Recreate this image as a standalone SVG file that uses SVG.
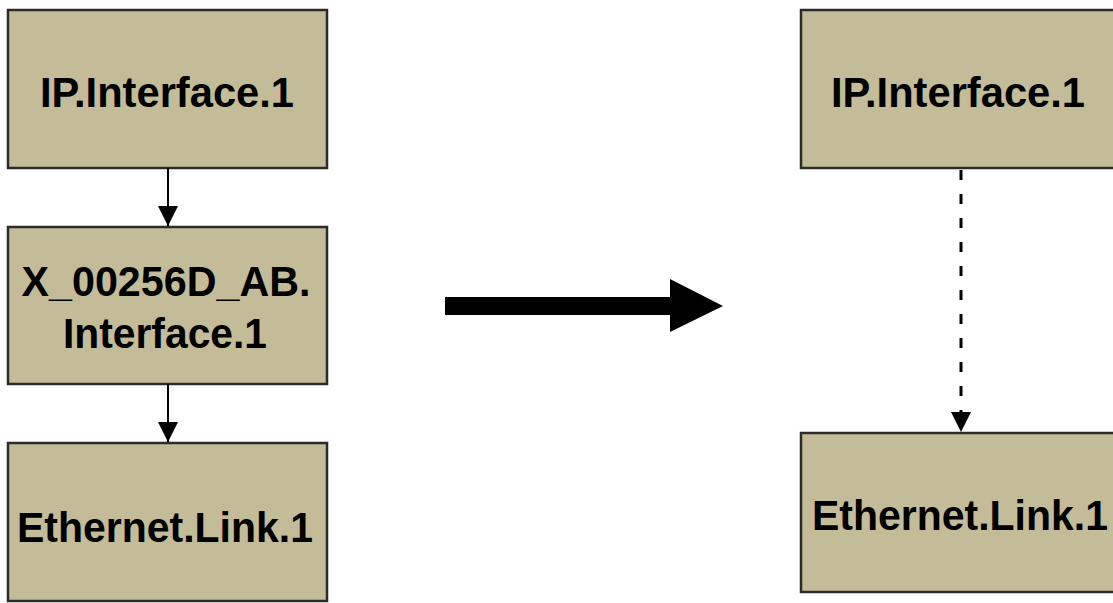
<svg xmlns="http://www.w3.org/2000/svg" width="1113" height="603" viewBox="0 0 1113 603">
<style>
.box{fill:#c4bc98;stroke:#2b2b2b;stroke-width:2.5}
.lbl{font-family:"Liberation Sans",Arial,sans-serif;font-weight:bold;font-size:42px;fill:#000;text-anchor:middle}
.conn{stroke:#000;stroke-width:2;fill:none}
.dash{stroke:#000;stroke-width:3;stroke-dasharray:10,14;fill:none}
</style>
<defs>
<marker id="ah" markerWidth="20" markerHeight="20" refX="20" refY="10" orient="auto" markerUnits="userSpaceOnUse">
<path d="M0,0 L20,10 L0,20 Z" fill="#000"/>
</marker>
</defs>
<rect width="1113" height="603" fill="#fff"/>
<g id="n-left-ip">
<rect class="box" x="8" y="10" width="319" height="158"/>
<text class="lbl" x="167" y="107" textLength="254" lengthAdjust="spacingAndGlyphs">IP.Interface.1</text>
</g>
<g id="n-left-x">
<rect class="box" x="8" y="227" width="319" height="157"/>
<text class="lbl" x="166" y="296" textLength="289" lengthAdjust="spacingAndGlyphs">X_00256D_AB.</text>
<text class="lbl" x="165" y="348" textLength="204" lengthAdjust="spacingAndGlyphs">Interface.1</text>
</g>
<g id="n-left-eth">
<rect class="box" x="8" y="443" width="319" height="158"/>
<text class="lbl" x="165" y="542" textLength="296" lengthAdjust="spacingAndGlyphs">Ethernet.Link.1</text>
</g>
<g id="n-right-ip">
<rect class="box" x="801" y="10" width="330" height="158"/>
<text class="lbl" x="958" y="107" textLength="254" lengthAdjust="spacingAndGlyphs">IP.Interface.1</text>
</g>
<g id="n-right-eth">
<rect class="box" x="801" y="433" width="330" height="159"/>
<text class="lbl" x="960" y="530" textLength="296" lengthAdjust="spacingAndGlyphs">Ethernet.Link.1</text>
</g>
<g id="connectors">
<line class="conn" x1="168" y1="168" x2="168" y2="226" marker-end="url(#ah)"/>
<line class="conn" x1="168" y1="384" x2="168" y2="442" marker-end="url(#ah)"/>
<line class="dash" x1="961" y1="170" x2="961" y2="432" marker-end="url(#ah)"/>
<path d="M445,297 L670,297 L670,279 L723,306 L670,332 L670,315 L445,315 Z" fill="#000"/>
</g>
</svg>
